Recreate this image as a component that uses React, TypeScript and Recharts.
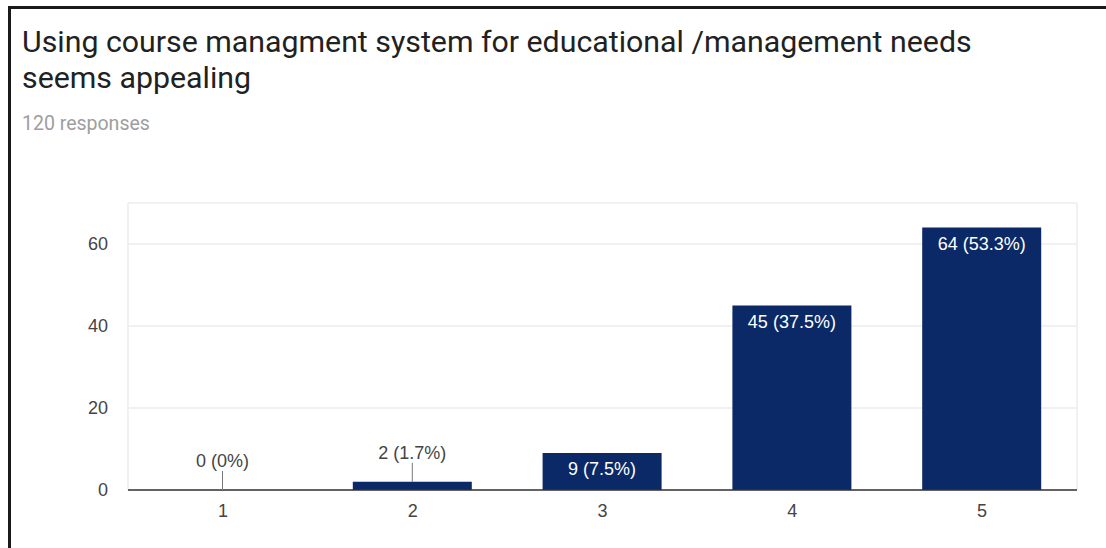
import React from "react";
import { BarChart, Bar, XAxis, YAxis, CartesianGrid, LabelList, Rectangle } from "recharts";

const categories = ["1", "2", "3", "4", "5"];
const counts = [0, 2, 9, 45, 64];
const percentLabels = ["0%", "1.7%", "7.5%", "37.5%", "53.3%"];
const yTicks = [0, 20, 40, 60];
const yMax = 70;

const titleLines = [
  "Using course managment system for educational /management needs",
  "seems appealing",
];
const subtitle = "120 responses";

const data = categories.map((c, i) => ({
  name: c,
  value: counts[i],
  label: `${counts[i]} (${percentLabels[i]})`,
}));

const BAR_COLOR = "#0a2966";
const FONT = "'Liberation Sans', Arial, sans-serif";

const BarShape = (props: any) => {
  if (!props.value || props.payload?.value === 0) return <g />;
  return <Rectangle {...props} />;
};

const BarLabel = (props: any) => {
  const { x, y, width, height, value } = props;
  const cx = x + width / 2;
  if (height > 22) {
    return (
      <text x={cx} y={y + 22} textAnchor="middle" fill="#ffffff" fontSize={18} fontFamily={FONT}>
        {value}
      </text>
    );
  }
  return (
    <g>
      <line x1={cx} x2={cx} y1={y - 19} y2={y} stroke="#777" strokeWidth={1} />
      <text x={cx} y={y - 23} textAnchor="middle" fill="#444" fontSize={18} fontFamily={FONT}>
        {value}
      </text>
    </g>
  );
};

export default function App() {
  return (
    <div
      style={{
        position: "absolute",
        left: 0,
        top: 0,
        width: 1106,
        height: 548,
        background: "#ffffff",
        overflow: "hidden",
      }}
    >
      <div
        style={{
          position: "absolute",
          left: 8,
          top: 6,
          width: 1106,
          height: 560,
          borderTop: "3px solid #1a1a1a",
          borderLeft: "3px solid #1a1a1a",
        }}
      />
      <div
        style={{
          position: "absolute",
          left: 22,
          top: 24,
          fontFamily: "Roboto, sans-serif",
          fontSize: 30.3,
          lineHeight: "36px",
          color: "#212121",
        }}
      >
        {titleLines.map((l, i) => (
          <div key={i} style={{ whiteSpace: "nowrap" }}>{l}</div>
        ))}
      </div>
      <div
        style={{
          position: "absolute",
          left: 22,
          top: 112,
          fontFamily: "Roboto, sans-serif",
          fontSize: 19.5,
          color: "#9e9e9e",
        }}
      >
        {subtitle}
      </div>
      <div style={{ position: "absolute", left: 0, top: 0 }}>
        <BarChart
          width={1106}
          height={548}
          data={data}
          margin={{ top: 203, right: 29, bottom: 28, left: 108 }}
        >
          <CartesianGrid
            stroke="#ececec"
            strokeWidth={1.5}
            horizontalCoordinatesGenerator={(p: any) => {
              const o = p?.offset;
              if (!o) return [];
              return [...yTicks, yMax].map((v) => o.top + o.height * (1 - v / yMax));
            }}
            verticalCoordinatesGenerator={(p: any) => {
              const o = p?.offset;
              if (!o) return [];
              return [o.left, o.left + o.width];
            }}
          />
          <XAxis
            dataKey="name"
            tickLine={false}
            axisLine={{ stroke: "#333", strokeWidth: 1.5 }}
            tickSize={0}
            tickMargin={14}
            height={30}
            tick={{ fill: "#444", fontSize: 18, fontFamily: FONT }}
          />
          <YAxis
            domain={[0, yMax]}
            ticks={yTicks}
            width={20}
            tickLine={false}
            axisLine={false}
            tickSize={0}
            tickMargin={20}
            tick={{ fill: "#444", fontSize: 18, fontFamily: FONT }}
          />
          <Bar
            dataKey="value"
            fill={BAR_COLOR}
            barSize={119}
            minPointSize={0.001}
            shape={<BarShape />}
            isAnimationActive={false}
          >
            <LabelList dataKey="label" content={<BarLabel />} />
          </Bar>
        </BarChart>
      </div>
    </div>
  );
}
